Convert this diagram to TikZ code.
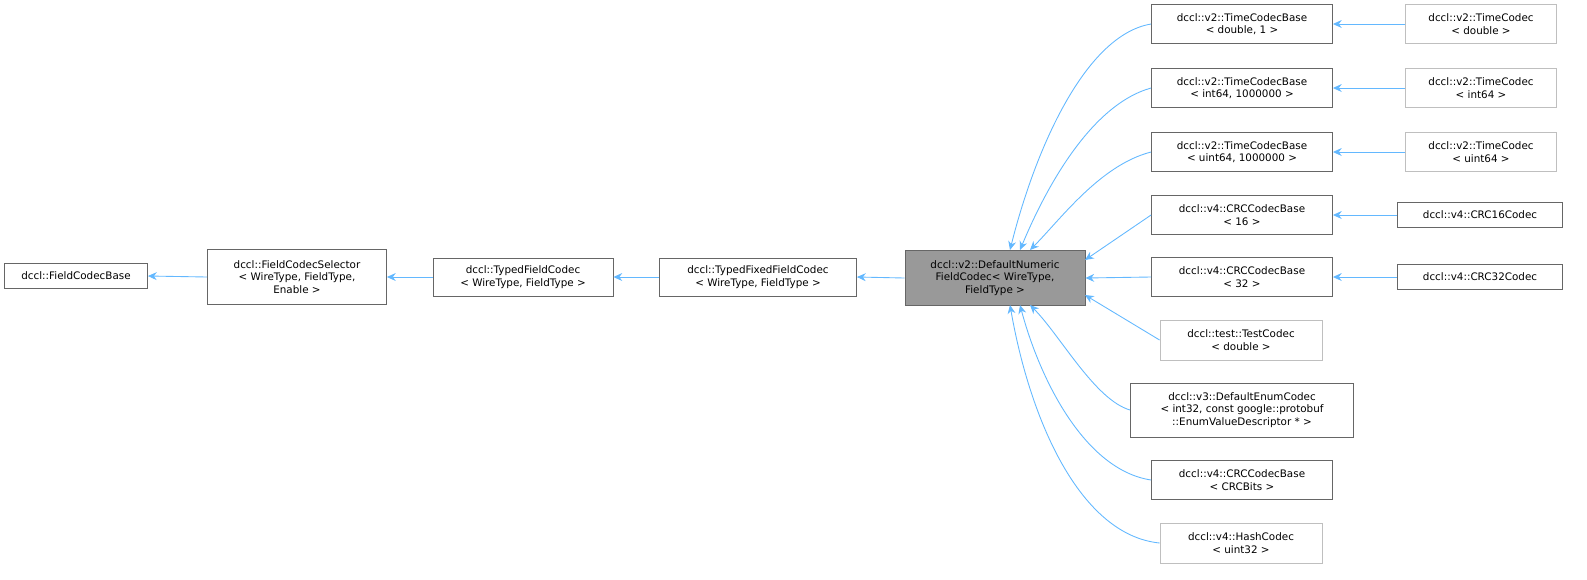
\documentclass[tikz,border=0pt]{standalone}
\usepackage{fontspec}
\setmainfont{DejaVu Sans}
\usetikzlibrary{arrows.meta}
\definecolor{edge}{HTML}{63B8FF}
\begin{document}
\begin{tikzpicture}[x=0.02cm,y=-0.02cm,
 box/.style={draw=black!60,line width=0.5pt,fill=white,align=center,inner sep=1pt,font=\fontsize{5.9}{7.2}\selectfont},
 gbox/.style={box,draw=black!25},
 arr/.style={draw=edge,line width=0.5pt,-{Stealth[length=5pt,width=4.5pt]}}]
\useasboundingbox (0,0) rectangle (1587,579);
\node[box,minimum width=2.86cm,minimum height=0.5cm] (fcb) at (76,276) {dccl::FieldCodecBase};
\node[box,minimum width=3.58cm,minimum height=1.1cm] (sel) at (297,277) {dccl::FieldCodecSelector\\< WireType, FieldType,\\Enable >};
\node[box,minimum width=3.6cm,minimum height=0.76cm] (tfc) at (523,277) {dccl::TypedFieldCodec\\< WireType, FieldType >};
\node[box,minimum width=3.94cm,minimum height=0.76cm] (tffc) at (758,277) {dccl::TypedFixedFieldCodec\\< WireType, FieldType >};
\node[box,fill=black!40,minimum width=3.6cm,minimum height=1.1cm] (dn) at (995,278) {dccl::v2::DefaultNumeric\\FieldCodec< WireType,\\FieldType >};
\node[box,minimum width=3.62cm,minimum height=0.78cm] (t1) at (1242,24) {dccl::v2::TimeCodecBase\\< double, 1 >};
\node[box,minimum width=3.62cm,minimum height=0.78cm] (t2) at (1242,88) {dccl::v2::TimeCodecBase\\< int64, 1000000 >};
\node[box,minimum width=3.62cm,minimum height=0.78cm] (t3) at (1242,152) {dccl::v2::TimeCodecBase\\< uint64, 1000000 >};
\node[box,minimum width=3.62cm,minimum height=0.78cm] (c16) at (1242,215) {dccl::v4::CRCCodecBase\\< 16 >};
\node[box,minimum width=3.62cm,minimum height=0.78cm] (c32) at (1242,277) {dccl::v4::CRCCodecBase\\< 32 >};
\node[gbox,minimum width=3.24cm,minimum height=0.8cm] (tc) at (1241,340) {dccl::test::TestCodec\\< double >};
\node[box,minimum width=4.46cm,minimum height=1.08cm] (en) at (1242,410) {dccl::v3::DefaultEnumCodec\\< int32, const google::protobuf\\::EnumValueDescriptor * >};
\node[box,minimum width=3.62cm,minimum height=0.78cm] (cb) at (1242,480) {dccl::v4::CRCCodecBase\\< CRCBits >};
\node[gbox,minimum width=3.24cm,minimum height=0.8cm] (hc) at (1241,543) {dccl::v4::HashCodec\\< uint32 >};
\node[gbox,minimum width=3.02cm,minimum height=0.78cm] (r1) at (1481,24) {dccl::v2::TimeCodec\\< double >};
\node[gbox,minimum width=3.02cm,minimum height=0.78cm] (r2) at (1481,88) {dccl::v2::TimeCodec\\< int64 >};
\node[gbox,minimum width=3.02cm,minimum height=0.78cm] (r3) at (1481,152) {dccl::v2::TimeCodec\\< uint64 >};
\node[box,minimum width=3.3cm,minimum height=0.5cm] (k16) at (1480,215) {dccl::v4::CRC16Codec};
\node[box,minimum width=3.3cm,minimum height=0.5cm] (k32) at (1480,277) {dccl::v4::CRC32Codec};
\coordinate (n1) at (1010,250); \coordinate (n2) at (1020,250); \coordinate (n3) at (1030,250);
\coordinate (s1) at (1010,305); \coordinate (s2) at (1020,305); \coordinate (s3) at (1030,305);
\coordinate (e1) at (1085,260); \coordinate (e3) at (1085,295);
\draw[arr] (sel.west) -- (fcb.east);
\draw[arr] (tfc.west) -- (sel.east);
\draw[arr] (tffc.west) -- (tfc.east);
\draw[arr] (dn.west) -- (tffc.east);
\draw[arr] (t1.west) .. controls (1085,35) and (1035,150) .. (n1);
\draw[arr] (t2.west) .. controls (1090,105) and (1045,190) .. (n2);
\draw[arr] (t3.west) .. controls (1100,165) and (1060,220) .. (n3);
\draw[arr] (c16.west) -- (e1);
\draw[arr] (c32.west) -- (dn.east);
\draw[arr] (tc.west) -- (e3);
\draw[arr] (en.west) .. controls (1095,400) and (1060,335) .. (s3);
\draw[arr] (cb.west) .. controls (1085,470) and (1040,380) .. (s2);
\draw[arr] (hc.west) .. controls (1080,535) and (1030,420) .. (s1);
\draw[arr] (r1.west) -- (t1.east);
\draw[arr] (r2.west) -- (t2.east);
\draw[arr] (r3.west) -- (t3.east);
\draw[arr] (k16.west) -- (c16.east);
\draw[arr] (k32.west) -- (c32.east);
\end{tikzpicture}
\end{document}
